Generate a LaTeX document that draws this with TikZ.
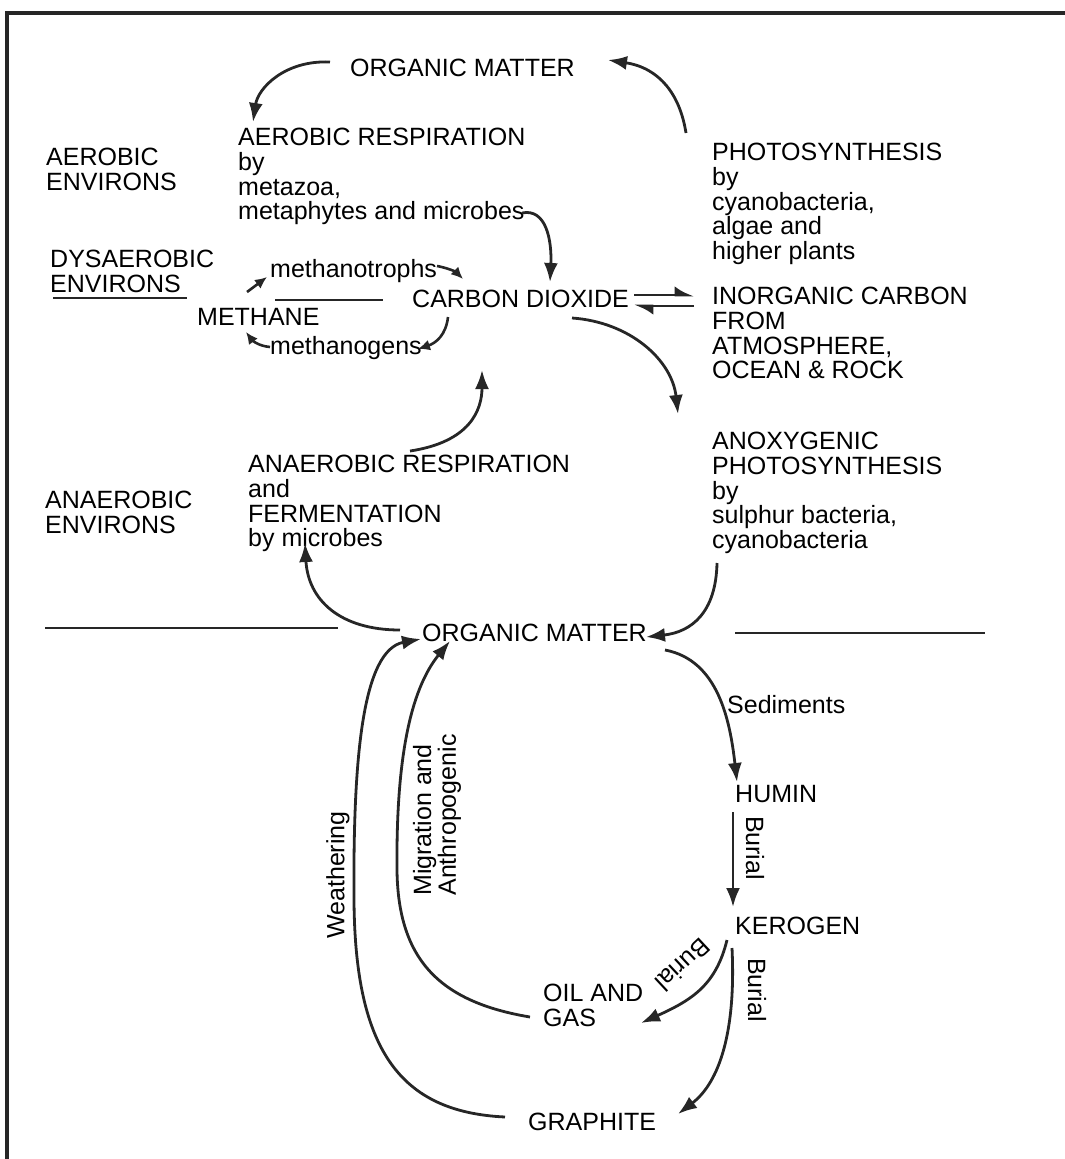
\documentclass[tikz,border=0pt]{standalone}
\usepackage{fontspec}
\setmainfont{Liberation Sans}
\usetikzlibrary{arrows.meta,calc}
\begin{document}
\begin{tikzpicture}[x=1pt,y=-1pt,
  txt/.style={inner sep=0pt, align=left, font=\fontsize{25}{24.75}\selectfont, text=black},
  arr/.style={line width=2.8pt, draw=black!85, -{Latex[length=19pt,width=14pt]}},
  sarr/.style={line width=2.6pt, draw=black!85, -{Latex[length=12pt,width=11pt]}},
  rule/.style={line width=2.8pt, draw=black!85},
  harpR/.style={line width=2.6pt, draw=black!85, -{Latex[harpoon,length=16pt,width=18pt]}},
  harpL/.style={line width=2.6pt, draw=black!85, -{Latex[harpoon,length=16pt,width=18pt]}}
]
\useasboundingbox (0,0) rectangle (1065,1159);
% frame
\coordinate (fb) at (1065,13);
\coordinate (fk) at (7,13);
\coordinate (fc) at (7,1159);
\draw[line width=3.2pt, black!85] (fb) -- (fk) -- (fc);

% text nodes
\node[txt, anchor=north west] (om1) at (350,59) {ORGANIC MATTER};
\node[txt, anchor=north west] (aer) at (238,128) {AEROBIC RESPIRATION\\by\\metazoa,\\metaphytes and microbes};
\node[txt, anchor=north west] (aerenv) at (46,148) {AEROBIC\\ENVIRONS};
\node[txt, anchor=north west] (photo) at (712,143) {PHOTOSYNTHESIS\\by\\cyanobacteria,\\algae and\\higher plants};
\node[txt, anchor=north west] (dys) at (50,250) {DYSAEROBIC\\ENVIRONS};
\node[txt, anchor=base west] (mtroph) at (270,277) {methanotrophs};
\node[txt, anchor=base west] (methane) at (197,325) {METHANE};
\node[txt, anchor=base west] (co2) at (412,307) {CARBON DIOXIDE};
\node[txt, anchor=base west] (mgen) at (270,354) {methanogens};
\node[txt, anchor=north west] (inorg) at (712,287) {INORGANIC CARBON\\FROM\\ATMOSPHERE,\\OCEAN \& ROCK};
\node[txt, anchor=north west] (anaer) at (248,455) {ANAEROBIC RESPIRATION\\and\\FERMENTATION\\by microbes};
\node[txt, anchor=north west] (anenv) at (45,491) {ANAEROBIC\\ENVIRONS};
\node[txt, anchor=north west] (anox) at (712,432) {ANOXYGENIC\\PHOTOSYNTHESIS\\by\\sulphur bacteria,\\cyanobacteria};
\node[txt, anchor=base west] (om2) at (422,641) {ORGANIC MATTER};
\node[txt, anchor=base west] (sed) at (727,713) {Sediments};
\node[txt, anchor=base west] (humin) at (735,802) {HUMIN};
\node[txt, anchor=base west] (kerogen) at (735,934) {KEROGEN};
\node[txt, anchor=north west] (oil) at (543,984) {OIL AND\\GAS};
\node[txt, anchor=base west] (graphite) at (528,1130) {GRAPHITE};
\node[txt, rotate=-90] (bur1) at (755,848) {Burial};
\node[txt, rotate=223] (bur2) at (683,965) {Burial};
\node[txt, rotate=-90] (bur3) at (757,990) {Burial};
\node[txt, rotate=90] (weath) at (338,875) {Weathering};
\node[txt, rotate=90] (migr) at (437,815) {Migration and\\Anthropogenic};

% rules
\coordinate (d1) at (53,298); \coordinate (d2) at (187,298);
\draw[rule] (d1) -- (d2);
\coordinate (m1) at (275,300); \coordinate (m2) at (383,300);
\draw[rule] (m1) -- (m2);
\coordinate (s1) at (45,628); \coordinate (s2) at (338,628);
\draw[rule] (s1) -- (s2);
\coordinate (s3) at (735,633); \coordinate (s4) at (985,633);
\draw[rule] (s3) -- (s4);

% connector endpoints
\coordinate (a1s) at (330,62);  \coordinate (a1e) at (253,122);
\coordinate (a2s) at (686,133); \coordinate (a2e) at (608,60);
\coordinate (a3s) at (522,213); \coordinate (a3e) at (550,282);
\coordinate (a4s) at (437,266); \coordinate (a4e) at (463,279);
\coordinate (a5s) at (247,292); \coordinate (a5e) at (267,277);
\coordinate (a6s) at (270,347); \coordinate (a6e) at (246,332);
\coordinate (a7s) at (448,317); \coordinate (a7e) at (418,349);
\coordinate (h1s) at (634,295); \coordinate (h1e) at (694,295);
\coordinate (h2s) at (694,306); \coordinate (h2e) at (634,306);
\coordinate (a9s) at (572,318); \coordinate (a9e) at (678,414);
\coordinate (a10s) at (410,451); \coordinate (a10e) at (482,370);
\coordinate (a11s) at (400,630); \coordinate (a11e) at (305,543);
\coordinate (a12s) at (717,563); \coordinate (a12e) at (646,637);
\coordinate (a13s) at (665,650); \coordinate (a13e) at (737,782);
\coordinate (a14s) at (733,812); \coordinate (a14e) at (733,907);
\coordinate (a15s) at (727,940); \coordinate (a15e) at (641,1023);
\coordinate (a16s) at (732,948); \coordinate (a16e) at (678,1114);
\coordinate (a17s) at (505,1117); \coordinate (a17m) at (354,900); \coordinate (a17e) at (421,639);
\coordinate (a18s) at (530,1017); \coordinate (a18m) at (397,870); \coordinate (a18e) at (450,641);

% connectors
\draw[arr] (a1s) .. controls (285,60) and (258,88) .. (a1e);
\draw[arr] (a2s) .. controls (680,95) and (660,68) .. (a2e);
\draw[arr] (a3s) .. controls (546,208) and (552,240) .. (a3e);
\draw[sarr] (a4s) .. controls (448,268) and (456,272) .. (a4e);
\draw[sarr] (a5s) -- (a5e);
\draw[sarr] (a6s) .. controls (258,346) and (252,340) .. (a6e);
\draw[sarr] (a7s) .. controls (446,335) and (436,343) .. (a7e);
\draw[harpR] (h1s) -- (h1e);
\draw[harpL] (h2s) -- (h2e);
\draw[arr] (a9s) .. controls (630,322) and (672,360) .. (a9e);
\draw[arr] (a10s) .. controls (470,442) and (482,410) .. (a10e);
\draw[arr] (a11s) .. controls (340,630) and (308,600) .. (a11e);
\draw[arr] (a12s) .. controls (716,612) and (692,632) .. (a12e);
\draw[arr] (a13s) .. controls (718,660) and (730,720) .. (a13e);
\draw[arr] (a14s) -- (a14e);
\draw[arr] (a15s) .. controls (716,985) and (692,1000) .. (a15e);
\draw[arr] (a16s) .. controls (736,1030) and (720,1082) .. (a16e);
\draw[arr] (a17s) .. controls (400,1112) and (355,1050) .. (a17m)
                  .. controls (353,760) and (362,650) .. (a17e);
\draw[arr] (a18s) .. controls (440,1002) and (398,960) .. (a18m)
                  .. controls (396,760) and (410,690) .. (a18e);
\end{tikzpicture}
\end{document}
